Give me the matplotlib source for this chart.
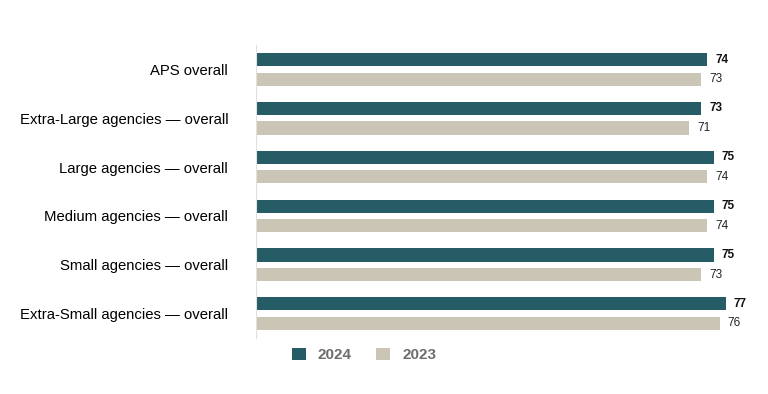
import matplotlib.pyplot as plt
import numpy as np

plt.rcParams['font.family'] = ['Liberation Sans', 'DejaVu Sans']

categories = ["APS overall", "Extra-Large agencies \u2014 overall", "Large agencies \u2014 overall",
              "Medium agencies \u2014 overall", "Small agencies \u2014 overall",
              "Extra-Small agencies \u2014 overall"]
vals_2024 = [74, 73, 75, 75, 75, 77]
vals_2023 = [73, 71, 74, 74, 73, 76]

c24 = '#265c65'
c23 = '#cbc5b5'

fig = plt.figure(figsize=(7.68, 3.94), dpi=100)
ax = fig.add_axes([256/768, 1-338/394, (744-256)/768, (338-45)/394])

y = np.arange(len(categories))
off = 0.2
h = 0.27
b1 = ax.barh(y - off, vals_2024, height=h, color=c24, label='2024')
b2 = ax.barh(y + off, vals_2023, height=h, color=c23, label='2023')

for v, yy in zip(vals_2024, y - off):
    ax.text(v + 1.3, yy, str(v), va='center', ha='left', fontsize=8.5, fontweight='bold', color='#111111')
for v, yy in zip(vals_2023, y + off):
    ax.text(v + 1.3, yy, str(v), va='center', ha='left', fontsize=8.5, color='#222222')

ax.set_xlim(0, 80)
ax.set_ylim(len(categories) - 0.5, -0.5)
ax.set_yticks(y)
ax.set_yticklabels(categories, fontsize=10.7)
ax.tick_params(axis='y', length=0, pad=20)
ax.set_xticks([])
for s in ['top', 'right', 'bottom']:
    ax.spines[s].set_visible(False)
ax.spines['left'].set_color('#e0e0e0')

leg = fig.legend(handles=[b1, b2], labels=['2024', '2023'], loc='center left',
                 bbox_to_anchor=(278/768, 1-355/394), ncol=2, frameon=False,
                 handlelength=0.9, handleheight=0.9, handletextpad=0.8, columnspacing=1.6,
                 prop={'weight': 'bold', 'size': 11})
for t in leg.get_texts():
    t.set_color('#6d6d6d')

fig.savefig('out.png', dpi=100)
